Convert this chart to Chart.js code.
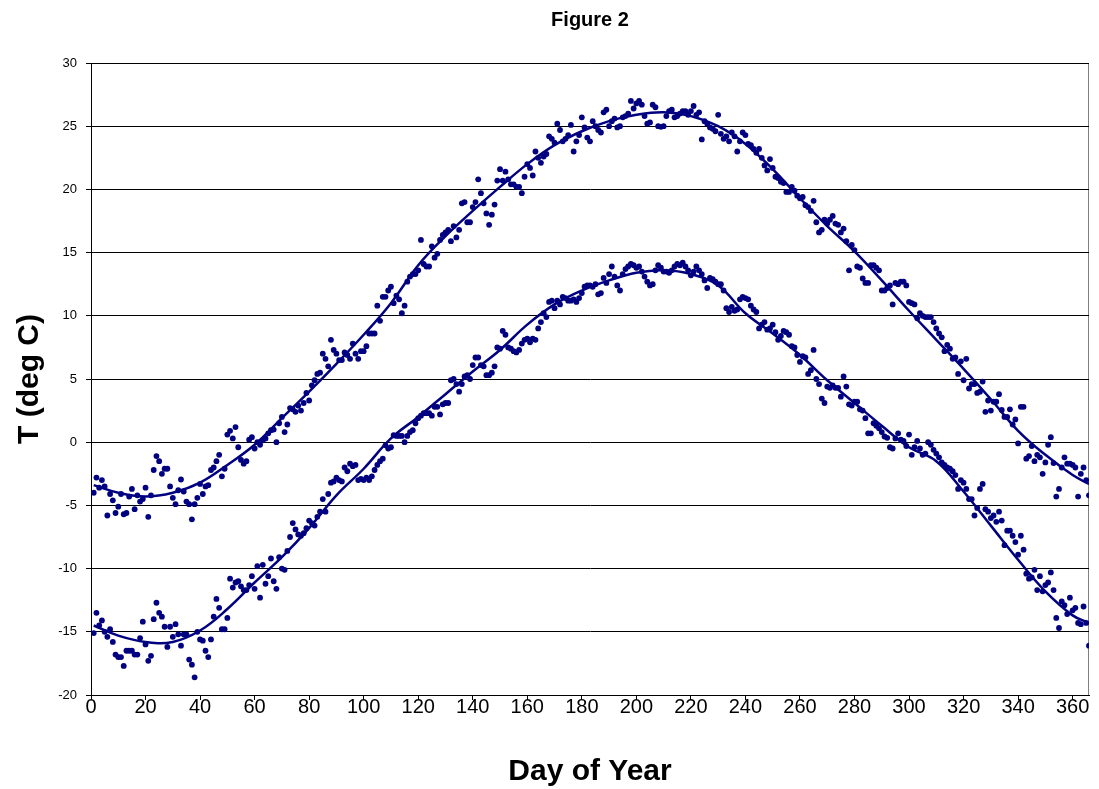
<!DOCTYPE html>
<html>
<head>
<meta charset="utf-8">
<title>Figure 2</title>
<script src="https://cdn.jsdelivr.net/npm/chart.js@4.4.1/dist/chart.umd.min.js"></script>
<style>
  html, body { margin: 0; padding: 0; background: #fff; }
  #wrap { width: 1099px; height: 789px; }
</style>
</head>
<body>
<div id="wrap"><canvas id="fig2" width="1099" height="789"></canvas></div>
<script>
// day numbers 1..366
const days = Array.from({ length: 366 }, (_, i) => i + 1);

// upper series (daily values)
const upperT = [
  -4.0, -2.8, -3.6, -3.0, -3.5, -5.8, -4.1, -4.6, -5.6, -5.1,
  -4.1, -5.7, -5.6, -4.3, -3.7, -5.3, -4.2, -4.7, -4.5, -3.6,
  -5.9, -4.2, -2.2, -1.1, -1.5, -2.5, -2.1, -2.1, -3.5, -4.4,
  -4.9, -3.8, -2.95, -3.9, -4.7, -4.9, -6.1, -4.9, -4.4, -3.3,
  -4.1, -3.5, -3.4, -2.2, -2.0, -1.5, -1.0, -2.7, -2.1, 0.6,
  0.9, 0.3, 1.2, -0.4, -1.4, -1.7, -1.5, 0.2, 0.4, -0.5,
  0.0, -0.2, 0.15, 0.3, 0.7, 0.95, 1.0, 0.0, 1.5, 2.0,
  0.8, 1.4, 2.7, 2.6, 2.4, 2.9, 2.5, 3.1, 3.9, 3.3,
  4.5, 4.9, 5.4, 5.5, 7.0, 6.6, 6.0, 8.1, 7.3, 7.0,
  6.5, 6.5, 7.1, 6.9, 6.6, 7.8, 7.0, 6.6, 7.2, 7.2,
  7.6, 8.6, 8.6, 8.6, 10.8, 9.6, 11.5, 11.5, 12.0, 12.3,
  11.0, 11.6, 11.3, 10.2, 10.8, 12.7, 13.1, 13.3, 13.3, 13.6,
  16.0, 14.1, 13.9, 13.9, 15.5, 14.6, 14.9, 16.0, 16.4, 16.6,
  16.8, 15.9, 17.1, 16.2, 16.8, 18.9, 19.0, 17.4, 17.4, 18.6,
  19.0, 20.8, 19.7, 18.9, 18.1, 17.2, 18.0, 18.8, 20.7, 21.6,
  20.7, 21.4, 20.8, 20.4, 20.4, 20.2, 20.2, 19.7, 21.0, 22.0,
  21.7, 21.1, 23.0, 22.5, 22.1, 22.6, 22.8, 24.2, 24.0, 23.7,
  25.2, 24.7, 23.8, 24.0, 24.3, 25.1, 23.0, 23.8, 24.3, 25.7,
  24.9, 24.1, 23.8, 25.4, 25.0, 24.7, 24.5, 26.1, 26.3, 25.0,
  25.4, 25.6, 24.9, 25.0, 25.7, 25.8, 26.0, 27.0, 26.4, 26.8,
  27.0, 26.7, 25.8, 25.2, 25.3, 26.7, 26.5, 25.0, 24.95, 25.0,
  25.8, 26.2, 26.3, 25.7, 25.8, 26.0, 26.2, 26.2, 25.9, 26.2,
  26.6, 25.9, 26.1, 23.95, 25.4, 25.2, 24.9, 24.8, 24.6, 25.9,
  24.4, 24.0, 24.2, 23.8, 24.5, 24.2, 23.0, 23.8, 24.5, 24.3,
  23.6, 23.5, 23.2, 22.9, 23.2, 22.5, 21.9, 21.5, 22.4, 21.7,
  21.0, 20.9, 20.6, 20.5, 19.8, 19.8, 20.2, 19.9, 19.5, 19.3,
  19.4, 18.75, 18.6, 18.3, 19.1, 17.4, 16.6, 16.8, 17.6, 17.3,
  17.6, 17.9, 17.3, 17.2, 16.6, 16.9, 15.9, 13.6, 15.6, 15.2,
  13.9, 13.8, 12.95, 12.6, 12.6, 14.0, 14.0, 13.8, 13.6, 12.0,
  12.0, 12.2, 12.4, 10.9, 12.6, 12.5, 12.7, 12.7, 12.4, 11.1,
  11.0, 10.9, 9.8, 10.2, 10.0, 9.9, 9.9, 9.9, 9.5, 9.0,
  8.6, 8.3, 7.2, 7.7, 7.4, 6.6, 6.7, 5.4, 6.4, 4.9,
  6.6, 4.25, 4.6, 4.6, 3.9, 4.0, 4.8, 2.4, 3.3, 2.5,
  3.2, 3.2, 3.8, 2.55, 2.0, 2.0, 2.6, 1.4, 1.8, -0.1,
  2.8, 2.8, -1.3, -1.1, -0.3, -1.5, -1.0, -1.2, -2.5, -1.6,
  -0.2, 0.4, -1.65, -4.3, -3.7, -2.0, -1.2, -1.7, -1.7, -1.8,
  -2.0, -4.3, -2.5, -2.0, -3.0, -4.2
];

// lower series
const lowerT = [
  -15.1, -13.5, -14.5, -14.1, -15.0, -15.4, -14.8, -15.8, -16.8, -17.0,
  -17.0, -17.7, -16.5, -16.5, -16.5, -16.8, -16.8, -15.5, -14.2, -16.0,
  -17.3, -16.9, -14.0, -12.7, -13.5, -13.8, -14.6, -16.2, -14.6, -15.4,
  -14.4, -15.2, -16.1, -15.2, -15.2, -17.2, -17.6, -18.6, -15.0, -15.6,
  -15.7, -16.5, -17.0, -15.6, -13.8, -12.4, -13.1, -14.8, -14.8, -13.9,
  -10.8, -11.5, -11.1, -11.0, -11.4, -11.7, -11.7, -11.3, -10.6, -11.6,
  -9.8, -12.3, -9.7, -11.2, -10.6, -9.2, -11.0, -11.6, -9.1, -10.0,
  -10.1, -8.6, -7.5, -6.4, -6.9, -7.3, -7.4, -7.2, -6.8, -6.2,
  -6.4, -6.6, -5.9, -5.5, -4.5, -5.5, -4.1, -3.2, -3.1, -2.8,
  -3.0, -3.1, -2.0, -2.3, -1.7, -1.9, -1.8, -3.0, -2.9, -3.0,
  -2.8, -3.0, -2.7, -2.2, -1.8, -1.5, -1.3, -0.25, -0.5, -0.4,
  0.55, 0.5, 0.5, 0.5, 0.0, 0.5, 0.8, 0.95, 1.5, 1.9,
  2.1, 2.3, 2.3, 2.3, 2.1, 2.8, 2.8, 2.2, 3.0, 3.1,
  3.1, 4.9, 5.0, 4.6, 4.0, 4.6, 5.2, 5.3, 5.0, 6.1,
  6.7, 6.7, 6.1, 6.0, 5.3, 5.3, 5.5, 6.0, 7.5, 7.4,
  8.8, 8.5, 7.5, 7.4, 7.2, 7.1, 7.3, 7.8, 8.1, 8.2,
  7.9, 8.2, 8.1, 9.0, 9.5, 10.2, 9.9, 11.1, 11.2, 10.6,
  11.2, 10.9, 11.5, 11.4, 11.2, 11.2, 11.3, 11.1, 11.4, 11.8,
  12.3, 12.4, 12.4, 12.3, 12.5, 11.7, 11.8, 13.0, 12.6, 13.3,
  13.9, 13.1, 12.4, 12.0, 13.3, 13.7, 13.9, 14.1, 14.0, 13.8,
  13.9, 13.5, 13.1, 12.7, 12.4, 12.5, 13.6, 14.0, 13.8, 13.5,
  13.5, 13.4, 13.6, 13.9, 14.1, 14.0, 14.2, 13.9, 13.6, 13.2,
  13.5, 13.9, 13.6, 13.3, 12.8, 12.2, 13.0, 12.9, 12.7, 12.5,
  12.5, 12.0, 10.6, 10.3, 10.7, 10.4, 10.5, 11.3, 11.5, 11.4,
  11.3, 10.8, 10.5, 10.3, 9.0, 9.3, 9.5, 8.9, 9.0, 9.3,
  8.7, 8.1, 8.4, 8.8, 8.7, 8.5, 7.6, 7.5, 6.9, 6.35,
  6.8, 6.7, 5.4, 5.7, 7.3, 5.0, 4.6, 3.45, 3.1, 4.4,
  4.3, 4.5, 4.3, 4.3, 3.6, 5.2, 4.4, 3.0, 2.9, 3.2,
  3.2, 2.6, 2.5, 1.9, 0.7, 0.7, 1.5, 1.3, 1.1, 0.8,
  0.45, 0.35, -0.4, -0.5, 0.3, 0.7, 0.2, 0.1, -0.3, 0.6,
  -1.0, -0.4, 0.1, -0.5, -1.0, -0.9, 0.0, -0.2, -0.6, -0.9,
  -1.2, -1.6, -1.8, -2.0, -2.1, -2.3, -2.6, -3.7, -3.0, -3.2,
  -3.7, -4.5, -4.5, -5.8, -5.2, -3.7, -3.3, -5.3, -5.5, -6.0,
  -5.8, -6.3, -5.5, -6.2, -8.15, -7.0, -7.0, -7.4, -7.9, -8.9,
  -7.4, -8.5, -10.4, -10.8, -10.7, -10.1, -11.7, -10.6, -11.8, -11.3,
  -11.1, -10.3, -11.7, -13.9, -14.7, -12.6, -12.9, -13.6, -12.3, -13.3,
  -13.1, -14.3, -14.4, -13.0, -14.3, -16.1
];

// smooth fitted curves, read every 10 days
const trendDays = [1, 10, 20, 30, 40, 50, 60, 70, 80, 90, 100, 110, 120, 130, 140, 150, 160, 170, 180,
  190, 200, 210, 220, 230, 240, 250, 260, 270, 280, 290, 300, 310, 320, 330, 340, 350, 360, 366];
const upperTrend = [-3.4, -4.0, -4.3, -4.0, -3.2, -1.8, -0.2, 1.9, 4.0, 6.2, 8.5, 11.0, 14.0, 16.3, 18.3,
  20.2, 22.0, 23.5, 24.6, 25.4, 25.9, 26.1, 25.8, 25.0, 23.6, 21.6, 19.3, 17.1, 15.1, 12.8, 10.4, 8.1,
  5.8, 3.4, 0.9, -1.0, -2.6, -3.3];
const lowerTrend = [-14.5, -15.3, -15.8, -15.8, -14.9, -13.2, -11.1, -9.1, -6.8, -4.2, -2.1, 0.3, 2.0,
  3.8, 5.6, 7.3, 9.3, 10.9, 12.0, 12.8, 13.4, 13.6, 13.3, 12.4, 10.2, 8.6, 6.9, 4.9, 3.1, 1.3, -0.4,
  -1.5, -3.9, -6.6, -9.3, -11.8, -13.7, -14.3];

const xTicks = [0, 20, 40, 60, 80, 100, 120, 140, 160, 180, 200, 220, 240, 260, 280, 300, 320, 340, 360];

const navy = '#000080';
const fontFam = "Arial, 'Liberation Sans', sans-serif";

function toPoints(xs, ys) {
  return xs.map((x, i) => ({ x: x, y: ys[i] }));
}

// grey frame round the plot area (drawn under the grid lines)
const plotFrame = {
  id: 'plotFrame',
  beforeDraw(chart) {
    const a = chart.chartArea;
    const ctx = chart.ctx;
    ctx.save();
    ctx.strokeStyle = '#808080';
    ctx.lineWidth = 1;
    ctx.strokeRect(a.left + 0.5, a.top + 0.5, a.right - a.left - 1, a.bottom - a.top);
    ctx.restore();
  }
};

new Chart(document.getElementById('fig2'), {
  type: 'scatter',
  data: {
    datasets: [
      {
        label: 'upper fit',
        data: toPoints(trendDays, upperTrend),
        showLine: true,
        borderColor: navy,
        borderWidth: 2.5,
        pointRadius: 0,
        tension: 0.4
      },
      {
        label: 'lower fit',
        data: toPoints(trendDays, lowerTrend),
        showLine: true,
        borderColor: navy,
        borderWidth: 2.5,
        pointRadius: 0,
        tension: 0.4
      },
      {
        label: 'upper',
        data: toPoints(days, upperT),
        backgroundColor: navy,
        borderWidth: 0,
        pointRadius: 2.9
      },
      {
        label: 'lower',
        data: toPoints(days, lowerT),
        backgroundColor: navy,
        borderWidth: 0,
        pointRadius: 2.9
      }
    ]
  },
  options: {
    responsive: false,
    animation: false,
    layout: { padding: { left: 0, right: 10, top: 0, bottom: 0 } },
    plugins: {
      legend: { display: false },
      tooltip: { enabled: false },
      title: {
        display: true,
        fullSize: false,
        text: 'Figure 2',
        color: '#000',
        font: { family: fontFam, size: 20, weight: 'bold' },
        padding: { top: 8, bottom: 31 }
      }
    },
    scales: {
      x: {
        type: 'linear',
        min: 0,
        max: 366,
        afterBuildTicks(scale) { scale.ticks = xTicks.map(v => ({ value: v })); },
        afterFit(scale) { scale.height = 94; },
        ticks: {
          color: '#000',
          font: { family: fontFam, size: 20 },
          padding: -5,
          maxRotation: 0,
          autoSkip: false
        },
        grid: { drawOnChartArea: false, drawTicks: true, tickLength: 5, color: '#000' },
        border: { color: '#000', width: 1 },
        title: {
          display: true,
          text: 'Day of Year',
          color: '#000',
          font: { family: fontFam, size: 30, weight: 'bold' },
          padding: { top: 0, bottom: -1 }
        }
      },
      y: {
        min: -20,
        max: 30,
        afterFit(scale) { scale.width = 91; },
        ticks: {
          stepSize: 5,
          color: '#000',
          font: { family: fontFam, size: 13 },
          padding: 9
        },
        grid: { color: '#000', lineWidth: 1, tickLength: 5 },
        border: { color: '#000', width: 1 },
        title: {
          display: true,
          text: 'T (deg C)',
          color: '#000',
          font: { family: fontFam, size: 30, weight: 'bold' },
          padding: { top: 12, bottom: 0 }
        }
      }
    }
  },
  plugins: [plotFrame]
});
</script>
</body>
</html>
